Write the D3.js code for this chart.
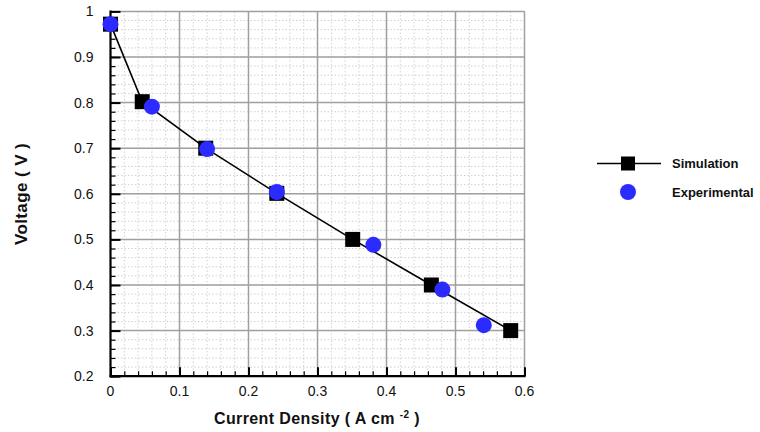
<!DOCTYPE html>
<html>
<head>
<meta charset="utf-8">
<script src="https://cdn.jsdelivr.net/npm/d3@7"></script>
<style>
  html, body { margin: 0; padding: 0; background: #fff; }
  svg { display: block; font-family: Arial, "Liberation Sans", Helvetica, sans-serif; }
</style>
</head>
<body>
<svg id="chart" width="760" height="432"></svg>
<script>
// Polarization curve: simulated vs. measured cell voltage
const simCurrent = [0, 0.046, 0.138, 0.241, 0.351, 0.465, 0.580];
const simVoltage = [0.972, 0.802, 0.700, 0.601, 0.500, 0.400, 0.300];
const expCurrent = [0, 0.060, 0.140, 0.241, 0.381, 0.481, 0.541];
const expVoltage = [0.972, 0.791, 0.698, 0.604, 0.488, 0.390, 0.312];

const xTicks = [0, 0.1, 0.2, 0.3, 0.4, 0.5, 0.6];
const yTicks = [0.2, 0.3, 0.4, 0.5, 0.6, 0.7, 0.8, 0.9, 1];
const seriesNames = ["Simulation", "Experimental"];

const svg = d3.select("#chart");
const plot = { left: 110.5, right: 524.5, top: 11.4, bottom: 376.2 };

const x = d3.scaleLinear().domain([0, 0.6]).range([plot.left, plot.right]);
const y = d3.scaleLinear().domain([0.2, 1]).range([plot.bottom, plot.top]);

const minorX = d3.range(0, 0.6001, 0.02);
const minorY = d3.range(0.2, 1.0001, 0.02);
const fmt = d => d === 0 ? "0" : d === 1 ? "1" : d3.format(".1f")(d);

// minor dotted grid
const g = svg.append("g");
g.selectAll(".mgx").data(minorX).join("line")
  .attr("x1", d => x(d)).attr("x2", d => x(d))
  .attr("y1", plot.top).attr("y2", plot.bottom)
  .attr("stroke", "#d0d0d0").attr("stroke-width", 1).attr("stroke-dasharray", "1.5,2");
g.selectAll(".mgy").data(minorY).join("line")
  .attr("y1", d => y(d)).attr("y2", d => y(d))
  .attr("x1", plot.left).attr("x2", plot.right)
  .attr("stroke", "#d0d0d0").attr("stroke-width", 1).attr("stroke-dasharray", "1.5,2");

// major grid
g.selectAll(".gx").data(xTicks.slice(1)).join("line")
  .attr("x1", d => x(d)).attr("x2", d => x(d))
  .attr("y1", plot.top).attr("y2", plot.bottom)
  .attr("stroke", "#a0a0a0").attr("stroke-width", 1.5);
g.selectAll(".gy").data(yTicks.slice(1)).join("line")
  .attr("y1", d => y(d)).attr("y2", d => y(d))
  .attr("x1", plot.left).attr("x2", plot.right)
  .attr("stroke", "#a0a0a0").attr("stroke-width", 1.5);

// axes with inward ticks
const xAxisMinor = d3.axisTop(x).tickValues(minorX).tickSize(5).tickFormat("");
const xAxisMajor = d3.axisTop(x).tickValues(xTicks).tickSize(9).tickFormat("");
const yAxisMinor = d3.axisRight(y).tickValues(minorY).tickSize(5).tickFormat("");
const yAxisMajor = d3.axisRight(y).tickValues(yTicks).tickSize(10).tickFormat("");

function styleAxis(sel, w) {
  sel.select(".domain").remove();
  sel.selectAll(".tick line").attr("stroke", "#000").attr("stroke-width", w);
}
svg.append("g").attr("transform", `translate(0,${plot.bottom})`).call(xAxisMinor).call(s => styleAxis(s, 1.2));
svg.append("g").attr("transform", `translate(0,${plot.bottom})`).call(xAxisMajor).call(s => styleAxis(s, 2));
svg.append("g").attr("transform", `translate(${plot.left},0)`).call(yAxisMinor).call(s => styleAxis(s, 1.2));
svg.append("g").attr("transform", `translate(${plot.left},0)`).call(yAxisMajor).call(s => styleAxis(s, 2));

// axis lines
svg.append("line").attr("x1", plot.left).attr("x2", plot.left)
  .attr("y1", plot.top - 1).attr("y2", plot.bottom + 1)
  .attr("stroke", "#000").attr("stroke-width", 2.2);
svg.append("line").attr("x1", plot.left - 1).attr("x2", plot.right + 1)
  .attr("y1", plot.bottom).attr("y2", plot.bottom)
  .attr("stroke", "#000").attr("stroke-width", 2.2);

// tick labels
svg.append("g").selectAll("text").data(xTicks).join("text")
  .attr("x", d => x(d)).attr("y", plot.bottom + 20)
  .attr("text-anchor", "middle").attr("font-size", 14).attr("fill", "#111")
  .text(fmt);
svg.append("g").selectAll("text").data(yTicks).join("text")
  .attr("x", plot.left - 17).attr("y", d => y(d) + 5)
  .attr("text-anchor", "end").attr("font-size", 14).attr("fill", "#111")
  .text(fmt);

// axis titles
const xt = svg.append("text").attr("x", 317).attr("y", 424)
  .attr("text-anchor", "middle").attr("font-size", 16).attr("font-weight", "bold")
  .attr("letter-spacing", 0.4).attr("fill", "#111");
xt.append("tspan").text("Current Density ( A cm ");
xt.append("tspan").attr("font-size", 10).attr("dy", -6).text("-2");
xt.append("tspan").attr("dy", 6).text(" )");

svg.append("text")
  .attr("transform", `translate(27,194) rotate(-90)`)
  .attr("text-anchor", "middle").attr("font-size", 17).attr("font-weight", "bold")
  .attr("letter-spacing", 0.4).attr("fill", "#111")
  .text("Voltage ( V )");

// simulation line + square markers
const simPts = simCurrent.map((c, i) => [c, simVoltage[i]]);
const expPts = expCurrent.map((c, i) => [c, expVoltage[i]]);
svg.append("path").datum(simPts)
  .attr("d", d3.line().x(d => x(d[0])).y(d => y(d[1])))
  .attr("fill", "none").attr("stroke", "#000").attr("stroke-width", 1.6);
const sq = 15;
svg.append("g").selectAll("rect").data(simPts).join("rect")
  .attr("x", d => x(d[0]) - sq / 2).attr("y", d => y(d[1]) - sq / 2)
  .attr("width", sq).attr("height", sq).attr("fill", "#000");

// experimental circles
svg.append("g").selectAll("circle").data(expPts).join("circle")
  .attr("cx", d => x(d[0])).attr("cy", d => y(d[1])).attr("r", 8)
  .attr("fill", "#2b2bff");

// legend
const lg = svg.append("g");
lg.append("line").attr("x1", 597).attr("x2", 661).attr("y1", 163.5).attr("y2", 163.5)
  .attr("stroke", "#000").attr("stroke-width", 1.6);
lg.append("rect").attr("x", 628 - 7).attr("y", 163.5 - 7).attr("width", 14).attr("height", 14).attr("fill", "#000");
lg.append("circle").attr("cx", 628).attr("cy", 192).attr("r", 8).attr("fill", "#2b2bff");
lg.selectAll("text").data(seriesNames).join("text")
  .attr("x", 672).attr("y", (d, i) => 168 + i * 28.5)
  .attr("font-size", 13).attr("font-weight", "bold").attr("fill", "#111")
  .text(d => d);
</script>
</body>
</html>
